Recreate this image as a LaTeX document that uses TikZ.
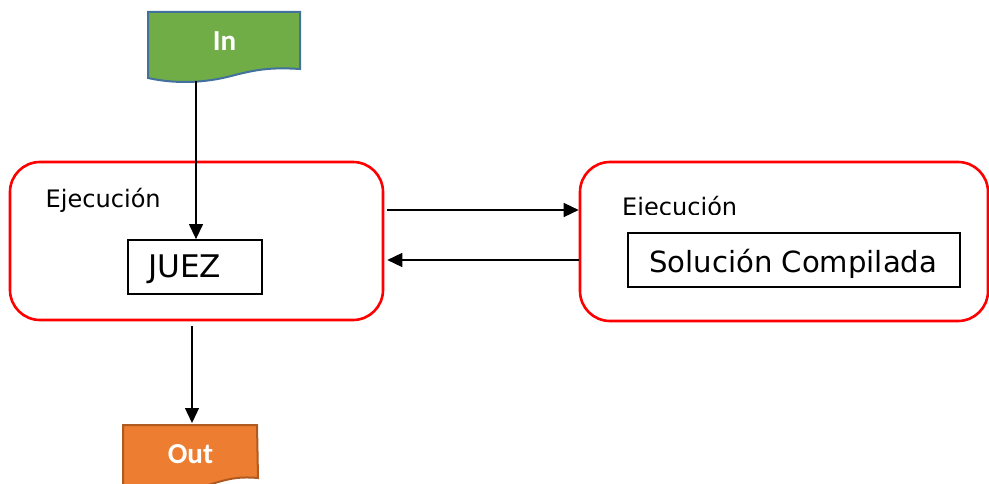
\documentclass[tikz,border=0pt]{standalone}
\usepackage{fontspec}
\usepackage{graphicx}
\usetikzlibrary{arrows.meta}
\newfontfamily\dvsans{DejaVu Sans}
\newfontfamily\carl{Carlito}
\definecolor{docgreen}{HTML}{70AD47}
\definecolor{docblue}{HTML}{41719C}
\definecolor{docorange}{HTML}{ED7D31}
\definecolor{docorangedark}{HTML}{AE5A21}
% text fitted to a given width
\newcommand{\fitw}[3]{\resizebox{#1}{!}{#2#3}}
\tikzset{
  execbox/.style={draw=red, line width=2.6pt, rounded corners=30pt, inner sep=0pt},
  itembox/.style={draw=black, line width=1.8pt, inner sep=0pt},
  arr/.style={draw=black, line width=1.3pt, -{Triangle[length=15pt,width=14pt]}},
  doclabel/.style={text=white, inner sep=0pt, anchor=base, font=\carl\bfseries\fontsize{29}{31}\selectfont},
  plainlabel/.style={inner sep=0pt, anchor=base west}
}
\begin{document}
\begin{tikzpicture}[x=1pt,y=-1pt]
\clip (0,0) rectangle (989,484);
\fill[white] (0,0) rectangle (989,484);

% input document shape
\draw[fill=docgreen, draw=docblue, line width=2pt]
  (148,12) -- (300,12) -- (300,69)
  .. controls (270,67) and (255,70) .. (235,75)
  .. controls (210,82) and (180,85) .. (148,78) -- cycle;
\node[doclabel] (inlbl) at (224.5,51) {In};
\coordinate (inbot) at (196,81);

% output document shape (runs past the lower edge)
\draw[fill=docorange, draw=docorangedark, line width=2pt]
  (123,425) -- (257,425) -- (258,478)
  .. controls (235,476) and (225,480) .. (205,486)
  .. controls (180,493) and (150,494) .. (123,488) -- cycle;
\node[doclabel] (outlbl) at (190.5,463) {Out};
\coordinate (outtop) at (192,423);

% execution containers
\node[execbox, minimum width=373pt, minimum height=158pt] (lbox) at (196.5,241) {};
\node[execbox, minimum width=408pt, minimum height=159pt] (rbox) at (784,241.5) {};

\node[plainlabel] (lexec) at (45.5,207.5) {\fitw{115pt}{\dvsans\fontsize{23}{25}\selectfont}{Ejecución}};
\begin{scope}
  \clip (600,180) rectangle (760,215);
  \node[plainlabel] (rexec) at (622,216) {\fitw{115pt}{\dvsans\fontsize{23}{25}\selectfont}{Ejecución}};
\end{scope}

% inner boxes
\node[itembox, minimum width=134pt, minimum height=54pt] (juez) at (195,267) {};
\node[plainlabel] (juezlbl) at (148,277.5) {\fitw{73pt}{\dvsans\fontsize{27}{29}\selectfont}{JUEZ}};
\node[itembox, minimum width=332pt, minimum height=54pt] (sol) at (794,260) {};
\node[plainlabel] (sollbl) at (649,272.5) {\fitw{288pt}{\dvsans\fontsize{29}{31}\selectfont}{Solución Compilada}};

% connectors
\draw[arr] (inbot) -- (inbot |- juez.north);
\draw[arr] ([xshift=3pt,yshift=31pt]lbox.east) -- ([yshift=31.5pt]rbox.west);
\draw[arr] ([yshift=-18.5pt]rbox.west) -- ([xshift=3pt,yshift=-19pt]lbox.east);
\draw[arr] ([xshift=-4.5pt,yshift=-5pt]lbox.south) -- (outtop);
\end{tikzpicture}
\end{document}
